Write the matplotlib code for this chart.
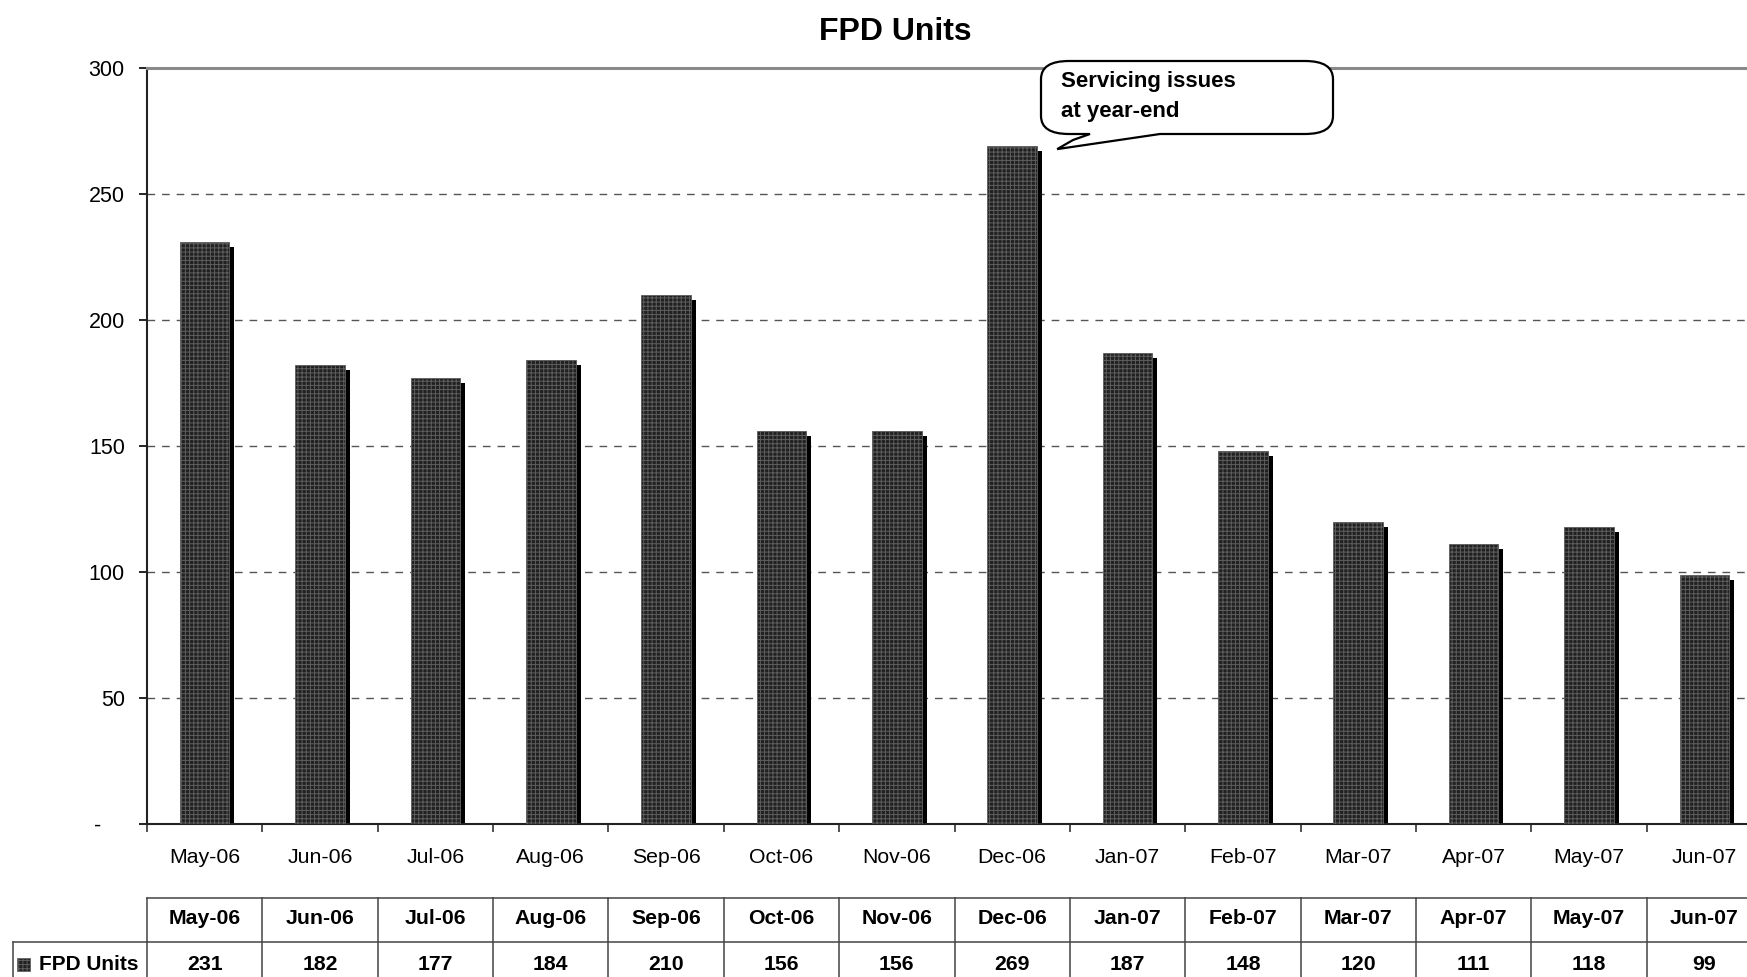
import matplotlib
matplotlib.use("Agg")
import matplotlib.pyplot as plt
import matplotlib.transforms as mtransforms
from matplotlib.patches import PathPatch, Rectangle
from matplotlib.path import Path
from matplotlib.lines import Line2D

# --- dados ---
months = ["May-06", "Jun-06", "Jul-06", "Aug-06", "Sep-06", "Oct-06", "Nov-06",
          "Dec-06", "Jan-07", "Feb-07", "Mar-07", "Apr-07", "May-07", "Jun-07"]
units = [231, 182, 177, 184, 210, 156, 156, 269, 187, 148, 120, 111, 118, 99]
series_name = "FPD Units"
y_ticks = [0, 50, 100, 150, 200, 250, 300]
y_tick_labels = ["-    ", "50", "100", "150", "200", "250", "300"]
note_text = "Servicing issues\nat year-end"
note_month = "Dec-06"

plt.rcParams["font.family"] = ["Liberation Sans", "DejaVu Sans"]
plt.rcParams["hatch.linewidth"] = 0.7

W, H = 1747, 977
fig = plt.figure(figsize=(W / 100, H / 100), dpi=100)
fig.patch.set_facecolor("white")

# area do grafico (a direita passa um pouco da borda da figura)
ax = fig.add_axes([147 / W, (H - 824) / H, (1762 - 147) / W, 756 / H])

x = list(range(len(months)))
bar_w = 0.43
bar_fill = "#212121"
hatch_col = "#5e5e5e"

# sombra preta deslocada para a direita e para baixo
shadow_off = mtransforms.ScaledTranslation(5 / 100, -5 / 100, fig.dpi_scale_trans)
shadows = ax.bar(x, units, width=bar_w, color="black", linewidth=0, zorder=2)
for s in shadows:
    s.set_transform(ax.transData + shadow_off)

ax.bar(x, units, width=bar_w, facecolor=bar_fill, edgecolor=hatch_col,
       hatch="++++", linewidth=0.6, zorder=3)

ax.set_xlim(-0.5, len(months) - 0.5)
ax.set_ylim(0, 300)

# eixo y
ax.set_yticks(y_ticks)
ax.set_yticklabels(y_tick_labels)
ax.tick_params(axis="y", direction="out", length=6, width=1.2, pad=10,
               labelsize=15.5, colors="black")

# eixo x: marcas entre categorias, rotulos no centro
ax.set_xticks([i - 0.5 for i in range(len(months) + 1)])
ax.set_xticklabels([])
ax.set_xticks(x, minor=True)
ax.set_xticklabels(months, minor=True)
ax.tick_params(axis="x", which="major", direction="out", length=6, width=1.2, color="#333333")
ax.tick_params(axis="x", which="minor", length=0, pad=17, labelsize=15.3)

ax.grid(axis="y", linestyle=(0, (5.5, 5)), color="#555555", linewidth=1.0)
ax.set_axisbelow(True)

ax.spines["right"].set_visible(False)
ax.spines["top"].set_color("#8a8a8a")
ax.spines["top"].set_linewidth(2.2)
ax.spines["left"].set_color("#222222")
ax.spines["left"].set_linewidth(1.5)
ax.spines["bottom"].set_color("#222222")
ax.spines["bottom"].set_linewidth(1.5)

# titulo
fig.text(895 / W, 1 - 32 / H, series_name, ha="center", va="center",
         fontsize=23, fontweight="bold")

# --- balao de comentario ---
fig.canvas.draw()
k = months.index(note_month)
tip_x, tip_y = ax.transData.transform((k + 0.39, units[k]))
tip_y -= 3

def px(xp, yp):
    # pixels contados de cima para baixo -> coordenadas de tela
    return (xp, H - yp)

L, R, T, B = 1041, 1333, 61, 134
rx, ry = 28, 18
verts = [
    (tip_x, tip_y),
    px(1160, B),
    px(R - rx, B), px(R, B), px(R, B - ry),
    px(R, T + ry),
    px(R, T), px(R - rx, T),
    px(L + rx, T),
    px(L, T), px(L, T + ry),
    px(L, B - ry),
    px(L, B), px(L + rx, B),
    px(1090, B),
    px(1073, 140),
    (tip_x, tip_y),
]
codes = [Path.MOVETO, Path.LINETO,
         Path.LINETO, Path.CURVE3, Path.CURVE3,
         Path.LINETO, Path.CURVE3, Path.CURVE3,
         Path.LINETO, Path.CURVE3, Path.CURVE3,
         Path.LINETO, Path.CURVE3, Path.CURVE3,
         Path.LINETO, Path.LINETO, Path.CLOSEPOLY]
balloon = PathPatch(Path(verts, codes), facecolor="white", edgecolor="black",
                    linewidth=1.6, transform=mtransforms.IdentityTransform(),
                    zorder=5)
fig.add_artist(balloon)
fig.text(1061 / W, 1 - 96.5 / H, note_text, ha="left", va="center",
         fontsize=16, fontweight="bold", linespacing=1.6, zorder=6)

# --- tabela de dados abaixo do grafico ---
blend = mtransforms.blended_transform_factory(ax.transData, fig.transFigure)
row_top, row_mid, row_bot = 1 - 898 / H, 1 - 942 / H, 1 - 986 / H
grid_col = "#444444"

for yy in (row_top, row_mid):
    fig.add_artist(Line2D([-0.5, len(months) - 0.5], [yy, yy], transform=blend,
                          color=grid_col, linewidth=1.1))
for i in range(len(months) + 1):
    fig.add_artist(Line2D([i - 0.5, i - 0.5], [row_top, row_bot], transform=blend,
                          color=grid_col, linewidth=1.1))

# celula do nome da serie
fig.add_artist(Line2D([13 / W, 147 / W], [row_mid, row_mid], transform=fig.transFigure,
                      color=grid_col, linewidth=1.1))
fig.add_artist(Line2D([13 / W, 13 / W], [row_mid, row_bot], transform=fig.transFigure,
                      color=grid_col, linewidth=1.1))
fig.add_artist(Rectangle((17 / W, 1 - 971 / H), 13 / W, 13 / H, transform=fig.transFigure,
                         facecolor=bar_fill, edgecolor=hatch_col, hatch="++++",
                         linewidth=0.5))
fig.text(39 / W, 1 - 964 / H, series_name, ha="left", va="center",
         fontsize=15, fontweight="bold")

for i, (m, v) in enumerate(zip(months, units)):
    fig.text(i, 1 - 919 / H, m, transform=blend, ha="center", va="center",
             fontsize=15.3, fontweight="bold")
    fig.text(i, 1 - 964 / H, str(v), transform=blend, ha="center", va="center",
             fontsize=15.3, fontweight="bold")

fig.savefig("out.png", dpi=100)
